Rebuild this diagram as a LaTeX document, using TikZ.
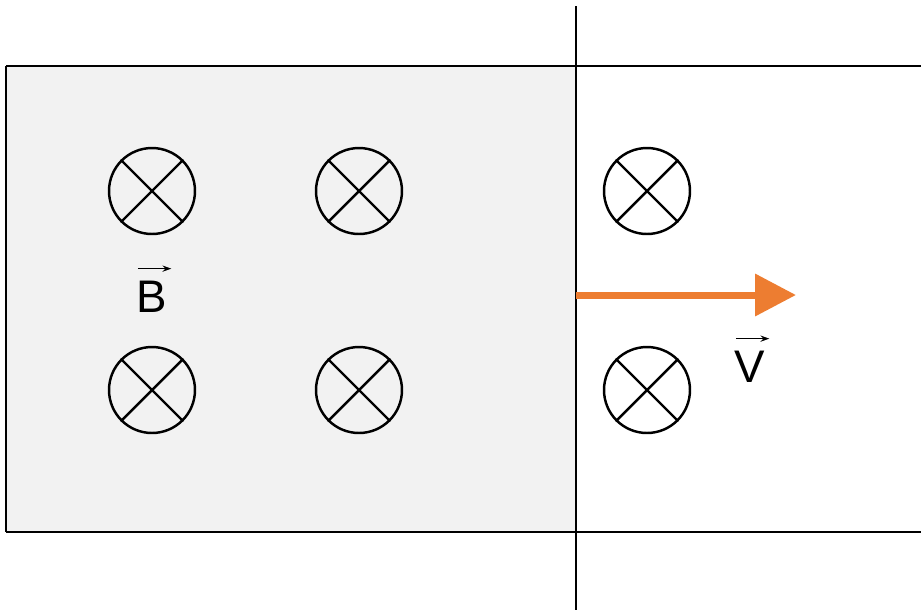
\documentclass[tikz,border=0pt]{standalone}
\usepackage{fontspec}
\setmainfont{Liberation Sans}
\usepackage{tikz}
\usetikzlibrary{arrows.meta}

\definecolor{fieldgray}{HTML}{F2F2F2}
\definecolor{speedorange}{HTML}{ED7D31}

\tikzset{
    bfield/.style={circle,draw=black,line width=1.4pt,inner sep=0pt,minimum size=1.72cm},
    vlabel/.style={font=\fontsize{26}{31}\selectfont,inner sep=0pt}
}

\begin{document}
\begin{tikzpicture}[x=0.02cm,y=-0.02cm]
\useasboundingbox (0,0) rectangle (921,610);

% field region
\fill[fieldgray] (6,66) rectangle (576,532);

\begin{scope}
    \coordinate (tl) at (6,66);
    \coordinate (bl) at (6,532);
    \coordinate (tr) at (921,66);
    \coordinate (br) at (921,532);
    \coordinate (top) at (576,6);
    \coordinate (bot) at (576,610);
    \coordinate (edge) at (576,295);
    \coordinate (tip) at (796,295);
\end{scope}

\begin{scope}
    \node[bfield] (a) at (152,191) {};
    \node[bfield] (b) at (359,191) {};
    \node[bfield] (c) at (647,191) {};
    \node[bfield] (d) at (152,390) {};
    \node[bfield] (e) at (359,390) {};
    \node[bfield] (f) at (647,390) {};
    \node[vlabel] (B) at (152,297) {B};
    \node[vlabel] (V) at (750,367) {V};
\end{scope}

\begin{scope}[line width=1.4pt]
    \path [-] (tr) edge (tl);
    \path [-] (tl) edge (bl);
    \path [-] (bl) edge (br);
    \path [-] (top) edge (bot);
    \foreach \n in {a,b,c,d,e,f}{
        \path [-] (\n.45) edge (\n.225);
        \path [-] (\n.135) edge (\n.315);
    }
\end{scope}

% vector arrows over the letters
\begin{scope}[>={Stealth[length=5pt,width=3.5pt]},line width=0.8pt]
    \draw [->] ([xshift=-8pt,yshift=7pt]B.north) -- ([xshift=11pt,yshift=7pt]B.north);
    \draw [->] ([xshift=-8pt,yshift=7pt]V.north) -- ([xshift=11pt,yshift=7pt]V.north);
\end{scope}

\draw [speedorange,line width=0.14cm,-{Triangle[length=0.82cm,width=0.82cm]}] (edge) -- (tip);
\end{tikzpicture}
\end{document}
